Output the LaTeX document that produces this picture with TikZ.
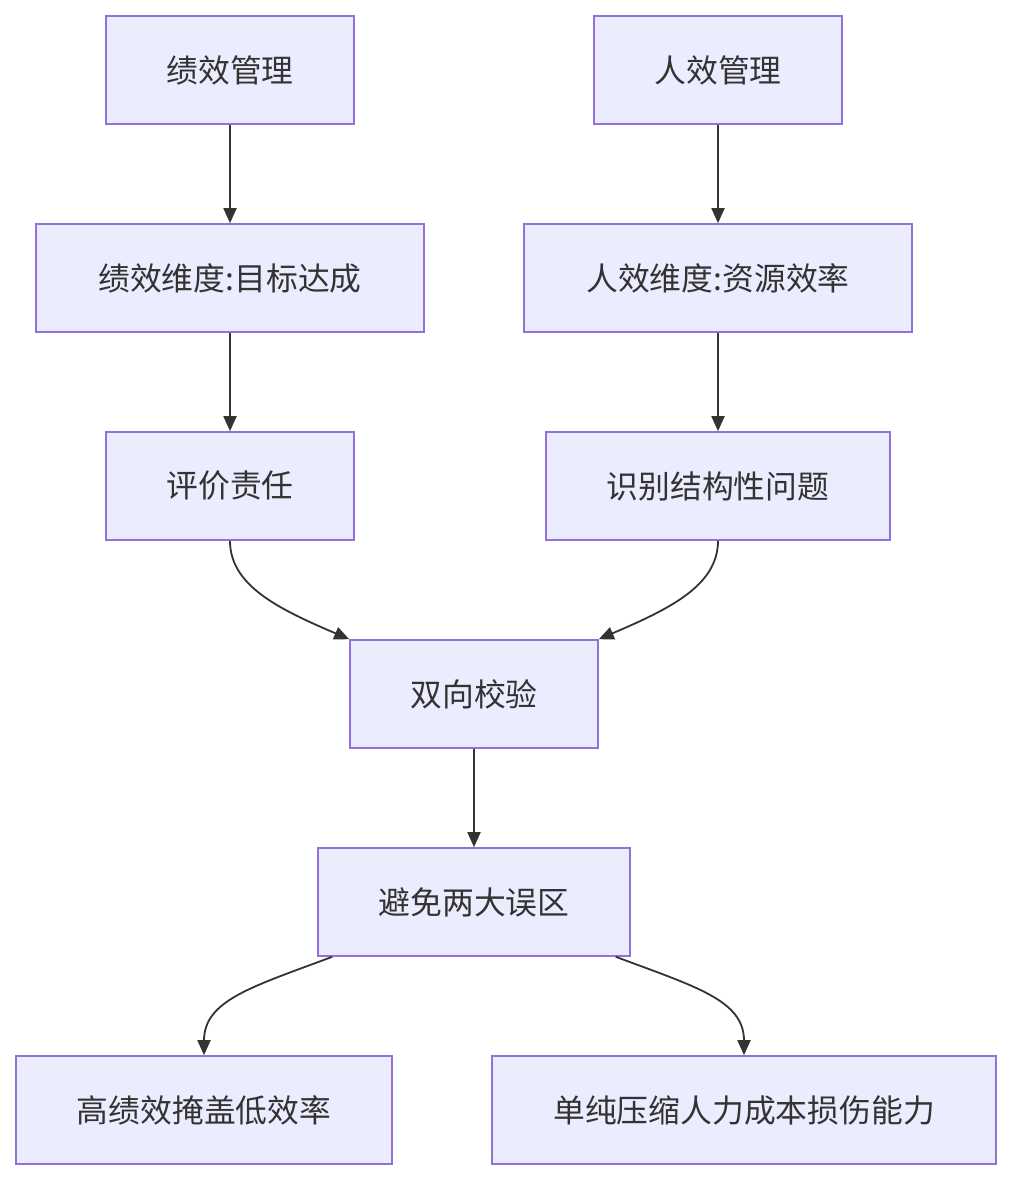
\documentclass[tikz,border=0pt]{standalone}
\usepackage{fontspec}
\setmainfont{Noto Sans CJK SC}
\usetikzlibrary{arrows.meta}
\definecolor{boxfill}{HTML}{ECECFF}
\definecolor{boxline}{HTML}{9370DB}
\definecolor{ink}{HTML}{333333}
\tikzset{
  flowbox/.style={draw=boxline, fill=boxfill, line width=1.6pt, minimum height=108pt,
    inner sep=0pt, text=ink, font=\fontsize{31.8}{38}\selectfont},
  flowarrow/.style={draw=ink, line width=1.8pt, -{Triangle[length=15pt,width=13pt]}}
}
\begin{document}
\begin{tikzpicture}[x=1pt,y=-1pt]
\useasboundingbox (0,0) rectangle (1012,1180);
\node[flowbox, minimum width=248pt] (n1) at (230,70) {绩效管理};
\node[flowbox, minimum width=248pt] (n2) at (718,70) {人效管理};
\node[flowbox, minimum width=388pt] (n3) at (230,278) {绩效维度:目标达成};
\node[flowbox, minimum width=388pt] (n4) at (718,278) {人效维度:资源效率};
\node[flowbox, minimum width=248pt] (n5) at (230,486) {评价责任};
\node[flowbox, minimum width=344pt] (n6) at (718,486) {识别结构性问题};
\node[flowbox, minimum width=248pt] (n7) at (474,694) {双向校验};
\node[flowbox, minimum width=312pt] (n8) at (474,902) {避免两大误区};
\node[flowbox, minimum width=376pt] (n9) at (204,1110) {高绩效掩盖低效率};
\node[flowbox, minimum width=504pt] (n10) at (744,1110) {单纯压缩人力成本损伤能力};

\draw[flowarrow] (n1) -- (n3);
\draw[flowarrow] (n2) -- (n4);
\draw[flowarrow] (n3) -- (n5);
\draw[flowarrow] (n4) -- (n6);
\draw[flowarrow] (n5.south) .. controls +(0,45) and +(-70,-30) .. (n7.north west);
\draw[flowarrow] (n6.south) .. controls +(0,45) and +(70,-30) .. (n7.north east);
\draw[flowarrow] (n7) -- (n8);
\draw[flowarrow] ([xshift=15pt]n8.south west) .. controls +(-80,30) and +(0,-55) .. (n9.north);
\draw[flowarrow] ([xshift=-15pt]n8.south east) .. controls +(80,30) and +(0,-55) .. (n10.north);
\end{tikzpicture}
\end{document}
